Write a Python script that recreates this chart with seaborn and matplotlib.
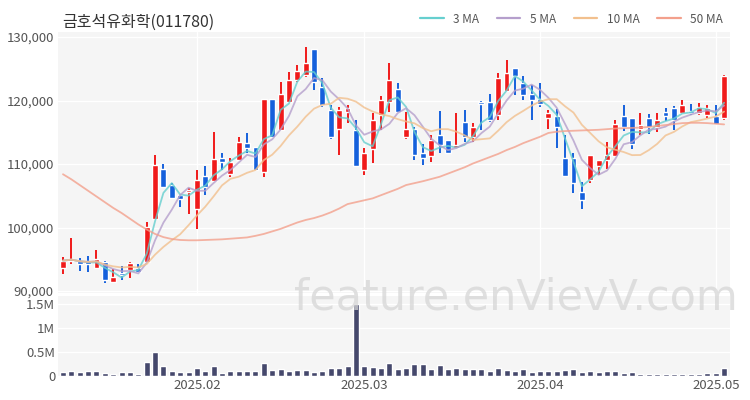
import numpy as np
import pandas as pd
import matplotlib
matplotlib.use("Agg")
import matplotlib.pyplot as plt
import seaborn as sns
from matplotlib.lines import Line2D
from matplotlib.ticker import FuncFormatter

# chart data
title = "금호석유화학(011780)"
open_ = [93700, 94800, 94700, 94700, 93600, 94600, 91500, 92800, 93400, 93700,
         94600, 101400, 109300, 106700, 105100, 105600, 103000, 108100, 107400, 110900,
         108500, 110700, 113300, 112700, 108800, 120200, 115400, 119800, 123200, 124000,
         128100, 122200, 118500, 115600, 118200, 115400, 109000, 112400, 117700, 119800,
         121900, 114300, 115500, 111800, 111200, 114600, 113800, 112500, 116700, 114300,
         119800, 119800, 117800, 121500, 125200, 122700, 121100, 120300, 117200, 117500,
         110900, 111000, 105600, 107500, 109700, 110700, 111300, 117500, 117200, 115600,
         117200, 115800, 118200, 118800, 118100, 118400, 118000, 117700, 117600, 117200]
high = [95300, 98400, 95200, 95500, 96500, 94700, 93500, 94000, 94600, 94300,
        100900, 111500, 110000, 107100, 105200, 106200, 109000, 109700, 115100, 111700,
        110900, 114300, 114900, 112700, 120200, 120200, 123000, 124500, 125600, 128400,
        128100, 123600, 119300, 119000, 119300, 116900, 112500, 118100, 120800, 125900,
        122800, 118200, 115900, 113100, 114600, 118400, 113800, 118100, 118500, 116500,
        120000, 121100, 124300, 126400, 125200, 123800, 122500, 122700, 118500, 118600,
        114600, 111700, 107200, 111400, 110700, 113400, 117000, 119300, 117200, 118100,
        117900, 118100, 118900, 119100, 120100, 119400, 119600, 119300, 119300, 124000]
low = [92700, 94300, 93200, 93000, 93600, 91200, 91500, 91800, 92000, 92900,
       94600, 101300, 106400, 104700, 103200, 102100, 99700, 105100, 107300, 109100,
       108000, 110600, 111700, 108900, 108000, 114100, 115200, 119800, 123000, 123700,
       121700, 119000, 113900, 111400, 116400, 109600, 108300, 110200, 115400, 118200,
       118100, 114000, 110600, 109800, 110400, 111800, 111700, 112500, 113500, 113500,
       115400, 116700, 116900, 121400, 120900, 120100, 117000, 119000, 115500, 112500,
       108000, 105500, 103000, 107000, 108300, 109300, 111300, 115200, 112300, 114600,
       114800, 115100, 116800, 115400, 118000, 117700, 117700, 117200, 116100, 116900]
close = [94800, 95100, 94200, 94300, 95000, 91700, 92200, 92500, 94500, 93000,
         100100, 109900, 106400, 104700, 104500, 105900, 107500, 106400, 110800, 110300,
         110300, 113400, 112500, 109100, 120200, 114300, 121100, 123200, 124600, 125900,
         123000, 119300, 114300, 118500, 118800, 109700, 111800, 116900, 120100, 123200,
         118200, 115600, 111400, 111000, 113800, 113000, 111800, 113000, 114300, 115900,
         119400, 116900, 123500, 124300, 123800, 120900, 120100, 119400, 118000, 115900,
         108100, 107100, 104300, 111400, 110700, 111400, 116300, 115800, 113100, 116100,
         115800, 116900, 117600, 117000, 119300, 118100, 119000, 118800, 116300, 123900]
volume = [85000, 106000, 78000, 99000, 106000, 64000, 50000, 78000, 85000, 35000,
          284000, 496000, 206000, 99000, 85000, 85000, 177000, 106000, 199000, 57000,
          106000, 106000, 106000, 106000, 270000, 121000, 156000, 106000, 121000, 121000,
          92000, 106000, 177000, 177000, 199000, 1510000, 199000, 191000, 165000, 270000,
          150000, 165000, 250000, 260000, 140000, 225000, 140000, 163000, 150000, 142000,
          150000, 106000, 163000, 121000, 106000, 156000, 92000, 106000, 106000, 106000,
          121000, 142000, 92000, 106000, 92000, 106000, 106000, 71000, 92000, 50000,
          35000, 35000, 35000, 35000, 35000, 35000, 35000, 57000, 71000, 163000]
ma50 = [108400, 107600, 106700, 105800, 104900, 104000, 103100, 102300, 101400, 100500,
        99700, 99000, 98500, 98200, 98050, 98000, 98000, 98050, 98100, 98150,
        98250, 98350, 98450, 98700, 99000, 99400, 99800, 100300, 100800, 101200,
        101500, 101900, 102400, 103000, 103700, 104000, 104300, 104600, 105100, 105600,
        106100, 106700, 107000, 107300, 107650, 108000, 108500, 109000, 109500, 110100,
        110600, 111100, 111600, 112200, 112700, 113300, 113800, 114300, 114900, 115100,
        115200, 115250, 115300, 115350, 115400, 115500, 115600, 115650, 115700, 115750,
        115850, 116000, 116150, 116300, 116450, 116500, 116500, 116450, 116350, 116250]
tick_pos = [16, 36, 57, 78]
tick_labels = ["2025.02", "2025.03", "2025.04", "2025.05"]

df = pd.DataFrame({"open": open_, "high": high, "low": low,
                   "close": close, "volume": volume})
df["idx"] = np.arange(len(df))
df["3 MA"] = df["close"].rolling(3, min_periods=1).mean()
df["5 MA"] = df["close"].rolling(5, min_periods=1).mean()
df["10 MA"] = df["close"].rolling(10, min_periods=1).mean()
df["50 MA"] = ma50
ma_long = df.melt(id_vars="idx", value_vars=["3 MA", "5 MA", "10 MA", "50 MA"],
                  var_name="MA", value_name="price")
ma_colors = {"3 MA": "#66cfcf", "5 MA": "#b59fcc", "10 MA": "#f2c08e", "50 MA": "#f3a08c"}

sns.set_theme(style="darkgrid", rc={
    "axes.facecolor": "#f5f5f5", "grid.color": "white", "grid.linewidth": 1.0,
    "xtick.color": "#555555", "ytick.color": "#555555",
    "xtick.major.size": 0, "ytick.major.size": 0,
})
plt.rcParams["font.family"] = ["Noto Sans CJK KR", "DejaVu Sans"]

fig = plt.figure(figsize=(7.5, 4), dpi=100)
ax = fig.add_axes([0.0773, 0.2675, 0.896, 0.6525])
axv = fig.add_axes([0.0773, 0.06, 0.896, 0.2])

# candles
up = df["close"] >= df["open"]
colors = np.where(up, "#f01a1a", "#1560dc")
bottom = np.minimum(df["open"], df["close"])
height = np.maximum(np.abs(df["close"] - df["open"]), 150)
ax.vlines(df["idx"], df["low"], df["high"], colors=colors, lw=1.4, zorder=2)
ax.bar(df["idx"], height, bottom=bottom, width=0.7, color=colors, zorder=3)

# moving averages
sns.lineplot(data=ma_long, x="idx", y="price", hue="MA", palette=ma_colors,
             lw=1.3, alpha=0.8, ax=ax, legend=False, zorder=4)

ax.set_xlim(-0.6, 79.7)
ax.set_ylim(89700, 130800)
ax.set_yticks([90000, 100000, 110000, 120000, 130000])
ax.yaxis.set_major_formatter(FuncFormatter(lambda v, p: f"{v:,.0f}"))
ax.set_xticks(tick_pos)
ax.set_xticklabels([])
ax.set_xlabel("")
ax.set_ylabel("")
ax.tick_params(axis="y", labelsize=9.5, pad=3)

# volume
sns.barplot(data=df, x="idx", y="volume", color="#45486c", width=0.72,
            saturation=1, ax=axv)
axv.set_xlim(-0.6, 79.7)
axv.set_ylim(0, 1.67e6)
axv.set_yticks([0, 500000, 1000000, 1500000])
axv.yaxis.set_major_formatter(FuncFormatter(
    lambda v, p: "0" if v == 0 else f"{v / 1e6:g}M"))
axv.set_xticks(tick_pos)
axv.set_xticklabels(tick_labels)
axv.set_xlabel("")
axv.set_ylabel("")
axv.tick_params(axis="both", labelsize=9.5, pad=2)

for a in (ax, axv):
    for s in a.spines.values():
        s.set_visible(False)

fig.text(0.083, 0.945, title, fontsize=11.5, color="#333333", va="center")
handles = [Line2D([0], [0], color=c, lw=1.6) for c in ma_colors.values()]
fig.legend(handles, list(ma_colors.keys()), loc="upper right",
           bbox_to_anchor=(0.978, 0.995), ncol=4, frameon=False, fontsize=8.5,
           handlelength=2.0, columnspacing=1.5, labelcolor="#555555")
fig.text(0.688, 0.255, "feature.enVievV.com", fontsize=31, color="#d6d6d6",
         alpha=0.75, ha="center", va="center", family="DejaVu Sans", zorder=10)

fig.savefig("out.png", dpi=100)
